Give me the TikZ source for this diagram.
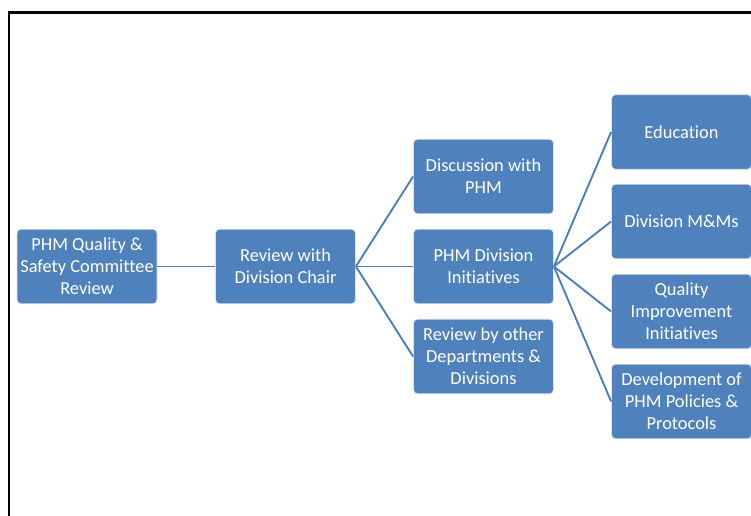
\documentclass[tikz,border=0pt]{standalone}
\usepackage{fontspec}
\setmainfont{Carlito}[Ligatures={NoCommon,NoRequired,NoContextual}]
\definecolor{boxblue}{HTML}{4F81BD}
\definecolor{lineblue}{HTML}{4A7EBB}
\begin{document}
\begin{tikzpicture}[x=0.75pt,y=-0.75pt,
  box/.style={draw=white!80!boxblue, line width=0.6pt, fill=boxblue, rounded corners=3pt,
    minimum width=105pt, minimum height=56pt, inner sep=1pt, text=white, align=center,
    font=\fontsize{13.8}{16.5}\selectfont},
  conn/.style={draw=lineblue, line width=1.4pt}]
\useasboundingbox (0,0) rectangle (751,516);
\fill[white] (0,0) rectangle (751,516);
\draw[line width=1.6pt] (9,516) -- (9,12.5) -- (751,12.5);
\node[box] (a) at (87,266.5) {PHM Quality \&\\Safety Committee\\Review};
\node[box] (b) at (285.5,266.5) {Review with\\Division Chair};
\node[box] (c1) at (483.5,176.5) {Discussion with\\PHM};
\node[box] (c2) at (483.5,266.5) {PHM Division\\Initiatives};
\node[box] (c3) at (483.5,356.5) {Review by other\\Departments \&\\Divisions};
\node[box] (d1) at (681.5,132) {Education};
\node[box] (d2) at (681.5,221.5) {Division M\&Ms};
\node[box] (d3) at (681.5,311.5) {Quality\\Improvement\\Initiatives};
\node[box] (d4) at (681.5,401.5) {Development of\\PHM Policies \&\\Protocols};
\draw[conn] (a.east) -- (b.west);
\foreach \t in {c1,c2,c3} \draw[conn] (b.east) -- (\t.west);
\foreach \t in {d1,d2,d3,d4} \draw[conn] (c2.east) -- (\t.west);
\end{tikzpicture}
\end{document}
